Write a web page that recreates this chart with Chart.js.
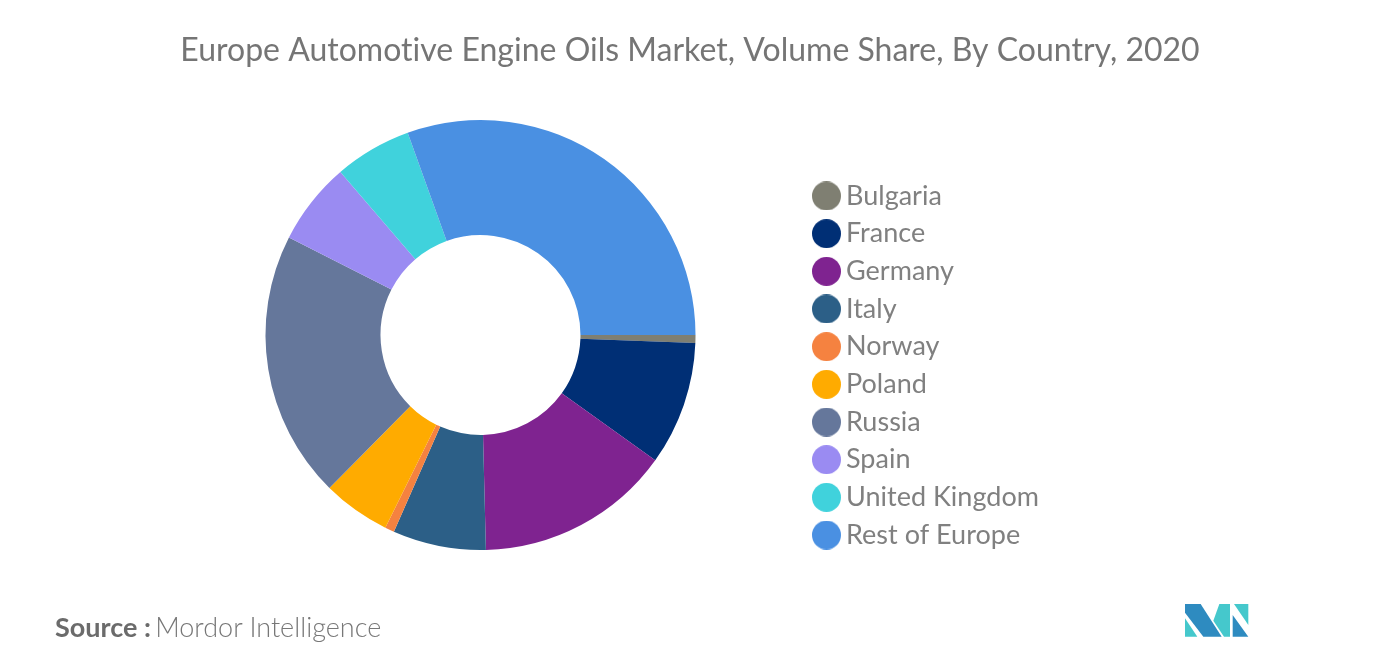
<!DOCTYPE html>
<html><head><meta charset="utf-8">
<style>
html,body{margin:0;padding:0;background:#fff;width:1376px;height:665px;overflow:hidden}
#c{position:absolute;left:0;top:0}
#src{position:absolute;left:55px;top:610px;font:300 27px Lato,sans-serif;color:#777;white-space:nowrap;line-height:34px}
#src b{font-weight:700;color:#6b6b6b;margin-right:-3px}
#logo{position:absolute;left:1160px;top:590px}
</style></head><body>
<canvas id="c" width="1376" height="665" style="width:1376px;height:665px"></canvas>
<div id="src"><b>Source :</b> Mordor Intelligence</div>
<svg id="logo" width="110" height="60" viewBox="0 0 330 180">
<polygon fill="#2E8BC0" points="75,42 122,42 185,140 130,140 75,68"/>
<polygon fill="#45C8CC" points="75,85 112,140 75,140"/>
<polygon fill="#45C8CC" points="178,42 210,42 210,140 192,140 160,92"/>
<polygon fill="#2E8BC0" points="218,75 265,140 218,140"/>
<polygon fill="#45C8CC" points="222,42 265,42 265,105"/>
</svg>
<script src="https://cdn.jsdelivr.net/npm/chart.js@4/dist/chart.umd.min.js"></script>
<script>
const titleText = "Europe Automotive Engine Oils Market, Volume Share, By Country, 2020";
const categories = ["Bulgaria","France","Germany","Italy","Norway","Poland","Russia","Spain","United Kingdom","Rest of Europe"];
const shares = [0.6,9.3,14.7,7.0,0.7,5.1,20.1,6.2,5.8,30.5];
const colors = ["#7F7F72","#002F75","#7F2390","#2C5F87","#F58240","#FFAB00","#65779B","#9A8BF2","#40D2DC","#4A90E2"];
const dots = colors.map(col=>{
  const cv=document.createElement("canvas");cv.width=29;cv.height=29;
  const g=cv.getContext("2d");g.fillStyle=col;g.beginPath();g.arc(14.5,14.5,14.5,0,Math.PI*2);g.fill();
  return cv;
});
const baseLabels = Chart.overrides.doughnut.plugins.legend.labels.generateLabels;
const placeBoxes = {
  id:"placeBoxes",
  beforeDraw(chart){ chart.ctx.letterSpacing="0.01px"; },
  afterLayout(chart){
    const l = chart.legend, h = l.bottom - l.top, w = l.right - l.left;
    l.left = 809.83; l.right = l.left + w;
    l.top = 350 + 15.5 - h/2; l.bottom = l.top + h;
    const t = chart.titleBlock;
    t.left = 0; t.right = 1380;
  }
};
new Chart(document.getElementById("c"),{
  type:"doughnut",
  data:{labels:categories,datasets:[{data:shares,backgroundColor:colors,borderWidth:0}]},
  plugins:[placeBoxes],
  options:{
    responsive:false,animation:false,rotation:90,cutout:"46.5%",
    layout:{padding:{left:10,right:186,top:31,bottom:115}},
    plugins:{
      tooltip:{enabled:false},
      title:{display:true,text:titleText,color:"#757575",font:{family:"Lato",size:32,weight:"400"},padding:{top:0,bottom:50.6}},
      legend:{position:"right",align:"center",
        labels:{color:"#808080",font:{family:"Lato",size:27,weight:"400"},usePointStyle:true,boxHeight:20,pointStyleWidth:12,padding:10.67,
          generateLabels:(c)=>baseLabels(c).map((it,i)=>({...it,pointStyle:dots[i]}))}}
    }
  }
});
</script>
</body></html>
